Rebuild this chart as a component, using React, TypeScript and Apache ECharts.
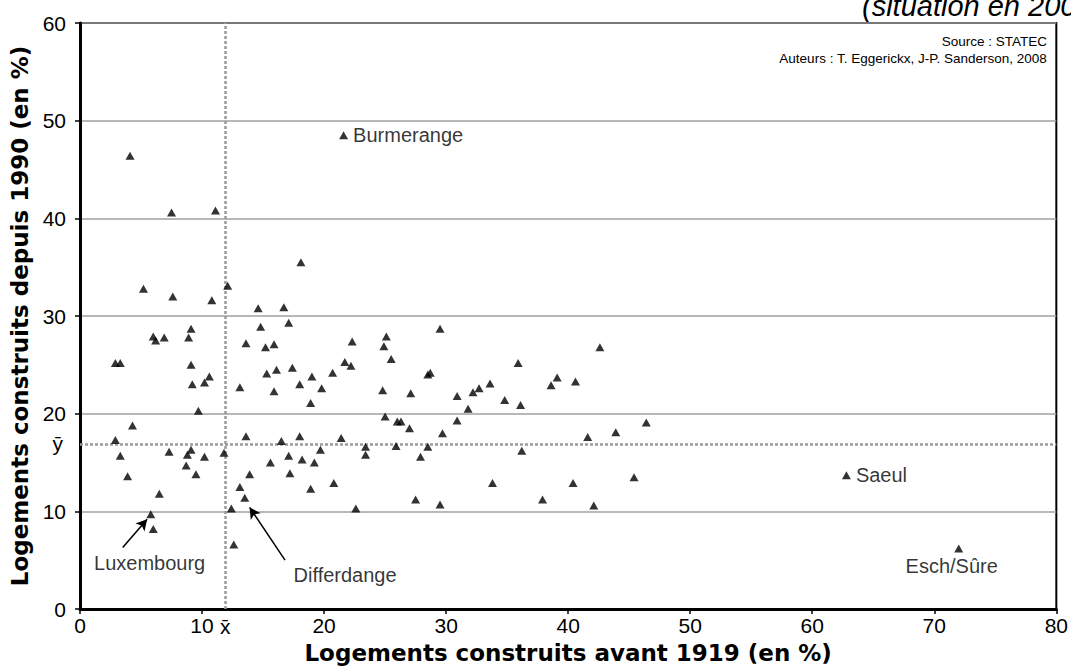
import React, { useEffect, useRef } from "react";
import * as echarts from "echarts";

const FONT = "'Liberation Sans', Arial, Helvetica, sans-serif";
const TITLE_FONT = "'DejaVu Sans', Verdana, sans-serif";

// Logements construits avant 1919 (%) — x
const avant1919: number[] = [
  4.1, 7.5, 11.1, 5.2, 7.6, 10.8, 12.1, 9.1, 8.9, 6.0, 6.2, 6.9, 2.9, 3.3, 9.1, 10.6, 10.2, 9.2, 9.7, 4.3,
  2.9, 3.3, 7.3, 8.8, 9.1, 10.2, 11.8, 8.7, 3.9, 9.5, 6.5, 5.8, 6.0,
  13.6, 13.1, 13.6, 13.9, 12.4, 12.6, 13.1, 13.5, 14.6, 16.7, 14.8, 17.1, 15.2, 15.9, 22.3, 25.1, 24.9, 29.5,
  25.5, 21.7, 22.2, 15.3, 16.1, 17.4, 19.0, 20.7, 28.5, 28.7, 18.0, 19.8, 15.9, 24.8, 27.1, 30.9, 18.9, 25.0,
  26.0, 26.3, 27.0, 29.7, 30.9, 16.5, 18.0, 21.4, 19.7, 23.4, 23.4, 25.9, 28.5, 15.6, 17.1, 18.2, 19.2, 27.9,
  17.2, 20.8, 18.9, 22.6, 27.5, 29.5, 18.1,
  42.6, 35.9, 32.2, 32.7, 33.6, 31.8, 34.8, 36.1, 38.6, 39.1, 40.6, 41.6, 43.9, 46.4, 36.2, 33.8, 40.4, 45.4,
  37.9, 42.1,
];

// Logements construits depuis 1990 (%) — y
const depuis1990: number[] = [
  46.4, 40.6, 40.8, 32.8, 32.0, 31.6, 33.1, 28.7, 27.8, 27.9, 27.5, 27.8, 25.2, 25.2, 25.0, 23.8, 23.2, 23.0, 20.3, 18.8,
  17.3, 15.7, 16.1, 15.8, 16.3, 15.6, 16.0, 14.7, 13.6, 13.8, 11.8, 9.7, 8.2,
  27.2, 22.7, 17.7, 13.8, 10.3, 6.6, 12.5, 11.4, 30.8, 30.9, 28.9, 29.3, 26.8, 27.1, 27.4, 27.9, 26.9, 28.7,
  25.6, 25.3, 24.9, 24.1, 24.5, 24.7, 23.8, 24.2, 24.0, 24.2, 23.0, 22.6, 22.3, 22.4, 22.1, 21.8, 21.1, 19.7,
  19.2, 19.2, 18.5, 18.0, 19.3, 17.2, 17.7, 17.5, 16.3, 16.6, 15.8, 16.7, 16.6, 15.0, 15.7, 15.3, 15.0, 15.6,
  13.9, 12.9, 12.3, 10.3, 11.2, 10.7, 35.5,
  26.8, 25.2, 22.2, 22.6, 23.1, 20.5, 21.4, 20.9, 22.9, 23.7, 23.3, 17.6, 18.1, 19.1, 16.2, 12.9, 12.9, 13.5,
  11.2, 10.6,
];

// Communes nommées à côté de leur point
const namedCommunes: string[] = ["Burmerange", "Saeul", "Esch/Sûre"];
const namedX: number[] = [21.6, 62.8, 72.0];
const namedY: number[] = [48.5, 13.7, 6.2];

// Communes annotées par une flèche
const arrowCommunes: string[] = ["Luxembourg", "Differdange"];
const arrowFromX: number[] = [3.5, 16.8];
const arrowFromY: number[] = [6.3, 5.0];
const arrowToX: number[] = [5.5, 13.9];
const arrowToY: number[] = [9.2, 10.4];
const arrowLabelX: number[] = [1.15, 17.5];
const arrowLabelY: number[] = [4.7, 3.5];

// Moyennes
const meanX = 11.9;
const meanY = 16.9;

const xTicks = { min: 0, max: 80, interval: 10 };
const yTicks = { min: 0, max: 60, interval: 10 };

export default function App() {
  const ref = useRef<HTMLDivElement>(null);

  useEffect(() => {
    if (!ref.current) return;
    const chart = echarts.init(ref.current, undefined, { renderer: "svg" });

    const points = avant1919.map((x, i) => [x, depuis1990[i]]);
    const namedPos = ["right", "right", "bottom"];
    const namedData = namedCommunes.map((n, i) => ({
      name: n,
      value: [namedX[i], namedY[i]],
      label: {
        position: namedPos[i],
        distance: i === 2 ? 4 : 5,
        offset: i === 2 ? [-7, 0] : [0, 0],
      },
    }));
    const arrowLabelData = arrowCommunes.map((n, i) => ({
      name: n,
      value: [arrowLabelX[i], arrowLabelY[i]],
    }));
    const arrowLines = arrowCommunes.map((_, i) => [
      { coord: [arrowFromX[i], arrowFromY[i]] },
      { coord: [arrowToX[i], arrowToY[i]] },
    ]);

    const axisLabel = { fontFamily: FONT, fontSize: 21, color: "#000" };
    const nameStyle = { fontFamily: TITLE_FONT, fontSize: 23, fontWeight: "bold", color: "#000" };

    chart.setOption({
      animation: false,
      backgroundColor: "#fff",
      grid: {
        left: 80,
        right: 11,
        top: 23,
        bottom: 61,
        show: true,
        borderColor: "#000",
        borderWidth: 2,
      },
      xAxis: {
        type: "value",
        ...xTicks,
        name: "Logements construits avant 1919 (en %)",
        nameLocation: "middle",
        nameGap: 32,
        nameTextStyle: nameStyle,
        axisLine: { show: true, onZero: false, lineStyle: { color: "#000", width: 3 } },
        axisTick: { show: true, length: 5, lineStyle: { color: "#000", width: 1.5 } },
        axisLabel: { ...axisLabel, margin: 6 },
        splitLine: { show: false },
      },
      yAxis: {
        type: "value",
        ...yTicks,
        name: "Logements construits depuis 1990 (en %)",
        nameLocation: "middle",
        nameGap: 49,
        nameTextStyle: nameStyle,
        axisLine: { show: true, onZero: false, lineStyle: { color: "#000", width: 3 } },
        axisTick: { show: true, length: 5, lineStyle: { color: "#000", width: 1.5 } },
        axisLabel: { ...axisLabel, margin: 14 },
        splitLine: { show: true, lineStyle: { color: "#a0a0a0", width: 1.5 } },
      },
      graphic: [
        {
          type: "text",
          left: 862,
          top: -9,
          style: {
            text: "(situation en 2001)",
            font: `italic 29px ${FONT}`,
            fill: "#000",
          },
        },
        {
          type: "text",
          right: 24,
          top: 34,
          style: {
            text: "Source : STATEC",
            font: `13.5px ${FONT}`,
            fill: "#000",
            align: "right",
          },
        },
        {
          type: "text",
          right: 24,
          top: 51,
          style: {
            text: "Auteurs : T. Eggerickx, J-P. Sanderson, 2008",
            font: `13.5px ${FONT}`,
            fill: "#000",
            align: "right",
          },
        },
      ],
      series: [
        {
          type: "scatter",
          data: points,
          symbol: "triangle",
          symbolSize: [9, 8],
          itemStyle: { color: "#000" },
          z: 5,
          markLine: {
            silent: true,
            symbol: ["none", "none"],
            lineStyle: { color: "#9a9a9a", width: 2.5, type: [3, 2] },
            label: { fontFamily: FONT, fontSize: 21, color: "#000" },
            data: [
              { xAxis: meanX, label: { formatter: "x\u0304", position: "start", distance: 7 } },
              { yAxis: meanY, label: { formatter: "y\u0304", position: "start", distance: 17 } },
            ],
          },
        },
        {
          type: "scatter",
          data: namedData,
          symbol: "triangle",
          symbolSize: [9, 8],
          itemStyle: { color: "#000" },
          z: 5,
          label: {
            show: true,
            formatter: "{b}",
            fontFamily: FONT,
            fontSize: 20,
            color: "#000",
          },
        },
        {
          type: "scatter",
          data: arrowLabelData,
          symbolSize: 0,
          itemStyle: { color: "transparent" },
          label: {
            show: true,
            formatter: "{b}",
            position: "right",
            distance: 0,
            fontFamily: FONT,
            fontSize: 20,
            color: "#000",
          },
          markLine: {
            silent: true,
            symbol: ["none", "arrow"],
            symbolSize: [9, 11],
            lineStyle: { color: "#000", width: 1.5, type: "solid" },
            label: { show: false },
            data: arrowLines,
          },
        },
      ],
    });

    return () => chart.dispose();
  }, []);

  return (
    <div
      ref={ref}
      style={{ position: "fixed", left: 0, top: 0, width: 1071, height: 670, background: "#fff" }}
    />
  );
}
